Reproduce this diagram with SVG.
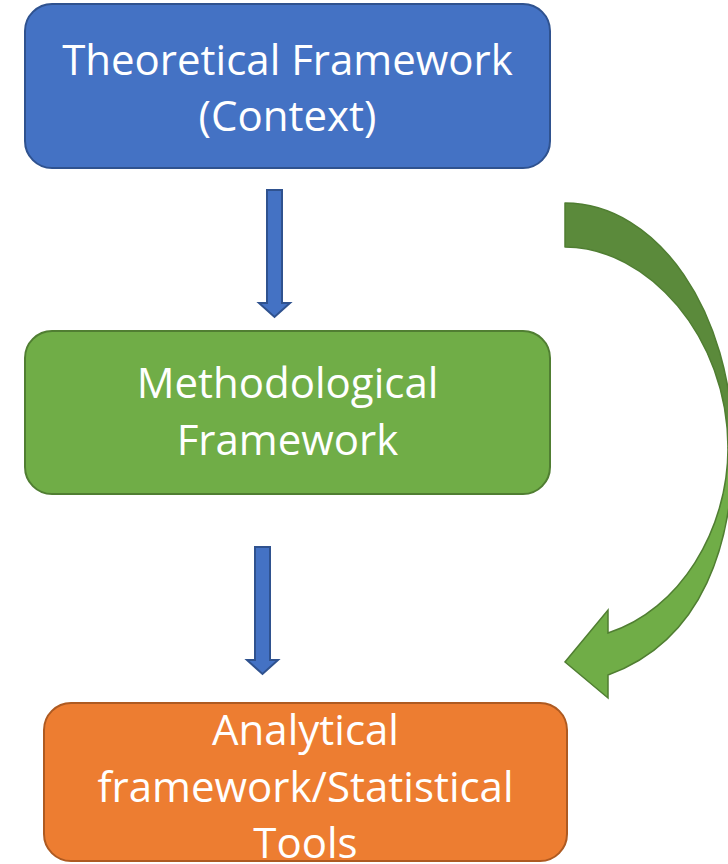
<svg xmlns="http://www.w3.org/2000/svg" width="728" height="864" viewBox="0 0 728 864">
  <style>
    .lbl { font-family: "Open Sans", "Liberation Sans", sans-serif; font-size: 42px; fill: #ffffff; text-anchor: middle; }
    .blue { fill: #4472C4; stroke: #2F528F; stroke-width: 2; }
    .green { fill: #70AD47; stroke: #507E32; stroke-width: 2; }
    .orange { fill: #ED7D31; stroke: #AE5A21; stroke-width: 2; }
    .darkgreen { fill: #5B8A3B; stroke: #507E32; stroke-width: 1.5; stroke-linejoin: round; }
    .lightgreen { fill: #70AD47; stroke: #507E32; stroke-width: 1.5; stroke-linejoin: miter; }
  </style>
  <rect width="728" height="864" fill="#ffffff"/>

  <g id="theoretical">
    <rect class="blue" x="25" y="4" width="525" height="164" rx="27"/>
    <text class="lbl" x="287.5" y="75">Theoretical Framework</text>
    <text class="lbl" x="287.5" y="131">(Context)</text>
  </g>

  <g id="methodological">
    <rect class="green" x="25" y="331" width="525" height="163" rx="27"/>
    <text class="lbl" x="287.5" y="398">Methodological</text>
    <text class="lbl" x="287.5" y="455">Framework</text>
  </g>

  <g id="analytical">
    <rect class="orange" x="44" y="703" width="523" height="158" rx="27"/>
    <text class="lbl" x="305.5" y="745">Analytical</text>
    <text class="lbl" x="305.5" y="802">framework/Statistical</text>
    <text class="lbl" x="305.5" y="858">Tools</text>
  </g>

  <g id="connectors">
    <!-- straight block arrows -->
    <path class="blue" d="M267,190 H282 V303 H290 L274.5,317 L259,303 H267 Z"/>
    <path class="blue" d="M255,547 H270 V660 H278 L262.5,674 L247,660 H255 Z"/>
    <!-- curved arrow: shaded back part, then front part with head -->
    <path class="darkgreen" d="M565,203 C658,203 733,313 733,448 L728,448 C728,337 648,247 565,247 Z"/>
    <path class="lightgreen" d="M733,448 C733,540 705,640 608,675 L608,698 L565,662 L608,610 L608,633 C680,610 728,530 728,448 Z"/>
  </g>
</svg>
